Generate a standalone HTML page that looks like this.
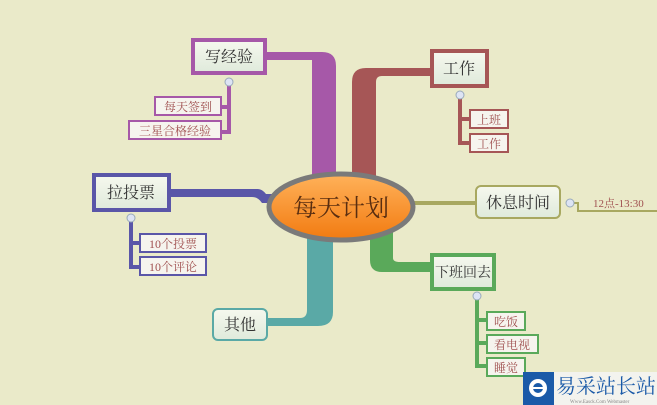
<!DOCTYPE html>
<html><head><meta charset="utf-8"><style>
html,body{margin:0;padding:0;background:#eaeac9;}
svg{display:block}
text{font-family:"Liberation Serif","Noto Serif CJK SC",serif;}
</style></head><body>
<svg width="657" height="405" viewBox="0 0 657 405" xmlns="http://www.w3.org/2000/svg">
<defs>
<linearGradient id="box" x1="0" y1="0" x2="0" y2="1"><stop offset="0" stop-color="#f6f8ee"/><stop offset="1" stop-color="#dfeadb"/></linearGradient>
<linearGradient id="org" x1="0" y1="0" x2="0" y2="1"><stop offset="0" stop-color="#ffb25a"/><stop offset="1" stop-color="#f27a10"/></linearGradient>
</defs>
<rect width="657" height="405" fill="#eaeac9"/>
<!-- purple -->
<path d="M266 52 H322 Q336 52 336 66 V178 H312 V60 H266 Z" fill="#a658a8"/>
<!-- red -->
<path d="M430 68 H366 Q352 68 352 82 V178 H376 V82 Q376 76 382 76 H430 Z" fill="#a65656"/>
<!-- blue -->
<path d="M170 189 H258 Q262 189 266 194 L276 194 L276 203 L262 203 Q258 197 252 197 H170 Z" fill="#5a56a8"/>
<!-- olive -->
<rect x="412" y="201" width="64" height="4" fill="#a8a860"/>
<!-- green -->
<path d="M370 232 H393 V258 Q393 262 400 262 H432 V272 H382 Q370 272 370 260 Z" fill="#5aa95a"/>
<!-- teal -->
<path d="M307 238 H333 V312 Q333 326 318 326 H268 V318 H300 Q307 318 307 310 Z" fill="#5aa9a6"/>
<!-- center -->
<ellipse cx="341" cy="207" rx="72" ry="33" fill="url(#org)" stroke="#7a7a7a" stroke-width="5"/>
<text x="341" y="216" font-size="24" text-anchor="middle" fill="#5a2e10">每天计划</text>
<!-- main boxes -->
<rect x="193" y="40" width="72" height="33" fill="url(#box)" stroke="#a658a8" stroke-width="4"/>
<text x="229" y="62" font-size="16" text-anchor="middle" fill="#333">写经验</text>
<rect x="432" y="51" width="55" height="35" fill="url(#box)" stroke="#a65656" stroke-width="4"/>
<text x="459" y="74" font-size="16" text-anchor="middle" fill="#333">工作</text>
<rect x="94" y="175" width="75" height="35" fill="url(#box)" stroke="#5a56a8" stroke-width="4"/>
<text x="131" y="198" font-size="16" text-anchor="middle" fill="#333">拉投票</text>
<rect x="476" y="186" width="84" height="32" rx="5" fill="url(#box)" stroke="#a8a860" stroke-width="2"/>
<text x="518" y="208" font-size="16" text-anchor="middle" fill="#333">休息时间</text>
<rect x="432" y="255" width="62" height="34" fill="url(#box)" stroke="#5aa95a" stroke-width="4"/>
<text x="463" y="277" font-size="14" text-anchor="middle" fill="#333">下班回去</text>
<rect x="213" y="309" width="54" height="31" rx="5" fill="url(#box)" stroke="#5aa9a6" stroke-width="2"/>
<text x="240" y="330" font-size="16" text-anchor="middle" fill="#333">其他</text>
<!-- 休息时间 child -->
<path d="M574 203 H578 V211 H657" fill="none" stroke="#a8a860" stroke-width="2"/>
<text x="593" y="207" font-size="11" fill="#a05050">12点-13:30</text>
<circle cx="570" cy="203" r="4" fill="#dde4f4" stroke="#9ab" stroke-width="1"/>
<!-- sub groups -->
<g fill="none" stroke-width="4">
<path d="M229 84 V132 H222 M229 107 H222" stroke="#a658a8"/>
<path d="M131 220 V267 H139 M131 243 H139" stroke="#5a56a8"/>
<path d="M460 97 V143 H469 M460 119 H469" stroke="#a65656"/>
<path d="M477 298 V366 H486 M477 320 H486 M477 343 H486" stroke="#5aa95a"/>
</g>
<g font-size="12" fill="#a05050">
<rect x="155" y="97" width="66" height="18" fill="#f6f4ee" stroke="#a658a8" stroke-width="2"/><text x="188" y="111" text-anchor="middle">每天签到</text>
<rect x="129" y="121" width="92" height="18" fill="#f6f4ee" stroke="#a658a8" stroke-width="2"/><text x="175" y="135" text-anchor="middle">三星合格经验</text>
<rect x="140" y="234" width="66" height="18" fill="#f6f4ee" stroke="#5a56a8" stroke-width="2"/><text x="173" y="248" text-anchor="middle">10个投票</text>
<rect x="140" y="257" width="66" height="18" fill="#f6f4ee" stroke="#5a56a8" stroke-width="2"/><text x="173" y="271" text-anchor="middle">10个评论</text>
<rect x="470" y="110" width="38" height="18" fill="#f6f4ee" stroke="#a65656" stroke-width="2"/><text x="489" y="124" text-anchor="middle">上班</text>
<rect x="470" y="134" width="38" height="18" fill="#f6f4ee" stroke="#a65656" stroke-width="2"/><text x="489" y="148" text-anchor="middle">工作</text>
<rect x="487" y="312" width="38" height="18" fill="#f6f4ee" stroke="#5aa95a" stroke-width="2"/><text x="506" y="326" text-anchor="middle">吃饭</text>
<rect x="487" y="335" width="51" height="18" fill="#f6f4ee" stroke="#5aa95a" stroke-width="2"/><text x="512" y="349" text-anchor="middle">看电视</text>
<rect x="487" y="358" width="38" height="18" fill="#f6f4ee" stroke="#5aa95a" stroke-width="2"/><text x="506" y="372" text-anchor="middle">睡觉</text>
</g>
<g fill="#dde4f4" stroke="#9ab" stroke-width="1">
<circle cx="229" cy="82" r="4"/><circle cx="131" cy="218" r="4"/><circle cx="460" cy="95" r="4"/><circle cx="477" cy="296" r="4"/>
</g>
<!-- watermark -->
<rect x="523" y="372" width="31" height="33" fill="#1a5aa8"/>
<circle cx="538" cy="388" r="9" fill="#fff"/>
<circle cx="538" cy="388" r="5" fill="#1a5aa8"/>
<rect x="532" y="387" width="11" height="2" fill="#fff"/>
<rect x="554" y="372" width="103" height="33" fill="#f4f4f4" opacity="0.85"/>
<text x="556" y="393" font-size="20" fill="#1a5aa8" font-family="'Liberation Sans','Noto Sans CJK SC',sans-serif" textLength="100">易采站长站</text>
<text x="570" y="403" font-size="5" fill="#888" font-family="'Liberation Sans',sans-serif">Www.Easck.Com Webmaster</text>
</svg>
</body></html>
